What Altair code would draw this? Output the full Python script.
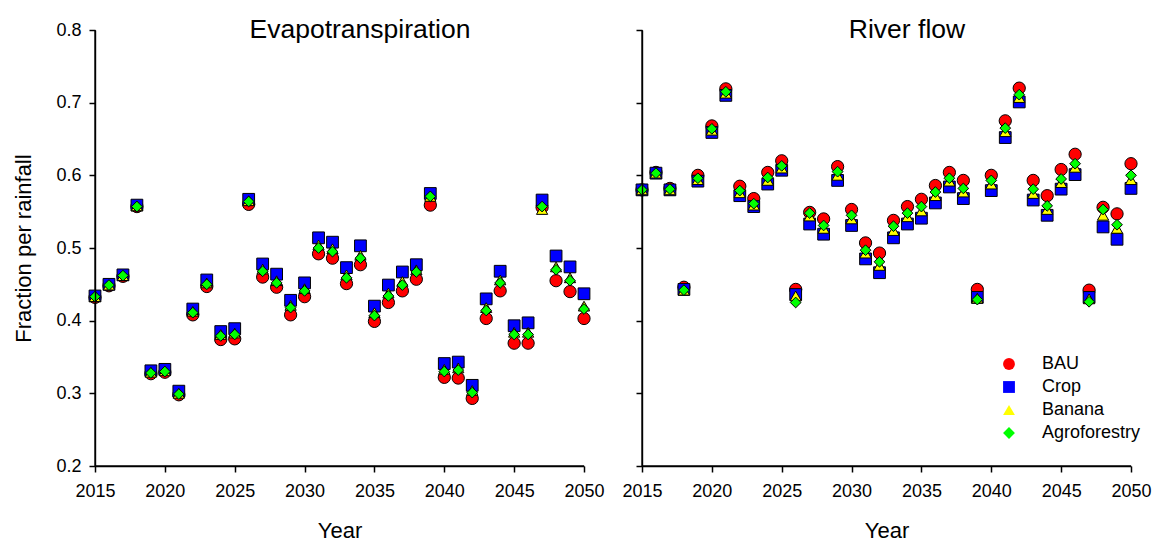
import altair as alt
import pandas as pd

years = list(range(2015, 2051))
scenarios = ["BAU", "Crop", "Banana", "Agroforestry"]
colors = ["#FF0000", "#0000FF", "#FFFF00", "#00FF00"]
shapes = ["circle", "square", "triangle-up", "diamond"]
sizes = [150, 115, 125, 150]

x_range = [2015, 2050]
y_range = [0.2, 0.8]
x_ticks = list(range(2015, 2051, 5))
y_ticks = [0.2, 0.3, 0.4, 0.5, 0.6, 0.7, 0.8]

# Evapotranspiration (fraction per rainfall)
et_bau = [0.432, 0.448, 0.461, 0.557, 0.327, 0.329, 0.298, 0.408, 0.447, 0.374,
          0.375, 0.560, 0.460, 0.446, 0.408, 0.433, 0.492, 0.486, 0.451, 0.477,
          0.399, 0.425, 0.441, 0.457, 0.559, 0.322, 0.321, 0.293, 0.403, 0.441,
          0.369, 0.369, 0.556, 0.455, 0.440, 0.403]
et_crop = [0.434, 0.450, 0.463, 0.559, 0.331, 0.333, 0.303, 0.416, 0.456, 0.385,
           0.389, 0.567, 0.478, 0.464, 0.428, 0.452, 0.514, 0.508, 0.473, 0.503,
           0.420, 0.449, 0.467, 0.477, 0.575, 0.341, 0.343, 0.311, 0.430, 0.468,
           0.393, 0.397, 0.566, 0.489, 0.474, 0.437]
et_banana = [0.433, 0.449, 0.462, 0.558, 0.329, 0.331, 0.300, 0.413, 0.452, 0.381,
             0.383, 0.565, 0.471, 0.455, 0.421, 0.444, 0.504, 0.499, 0.463, 0.490,
             0.411, 0.438, 0.454, 0.470, 0.571, 0.333, 0.335, 0.304, 0.418, 0.456,
             0.384, 0.384, 0.553, 0.474, 0.459, 0.420]
et_agro = [0.433, 0.449, 0.462, 0.557, 0.328, 0.330, 0.299, 0.411, 0.450, 0.379,
           0.381, 0.564, 0.468, 0.452, 0.418, 0.441, 0.500, 0.495, 0.459, 0.486,
           0.407, 0.434, 0.449, 0.467, 0.571, 0.330, 0.332, 0.301, 0.414, 0.452,
           0.381, 0.381, 0.557, 0.470, 0.455, 0.416]

# River flow (fraction per rainfall)
rf_bau = [0.580, 0.604, 0.582, 0.446, 0.600, 0.668, 0.719, 0.585, 0.568, 0.604,
          0.620, 0.443, 0.549, 0.540, 0.612, 0.553, 0.507, 0.493, 0.538, 0.557,
          0.567, 0.586, 0.604, 0.593, 0.443, 0.600, 0.675, 0.720, 0.593, 0.572,
          0.608, 0.629, 0.442, 0.556, 0.547, 0.616]
rf_crop = [0.580, 0.603, 0.580, 0.443, 0.592, 0.659, 0.710, 0.572, 0.557, 0.588,
           0.607, 0.436, 0.533, 0.519, 0.593, 0.531, 0.485, 0.466, 0.514, 0.533,
           0.541, 0.562, 0.584, 0.568, 0.432, 0.579, 0.652, 0.701, 0.566, 0.545,
           0.581, 0.601, 0.432, 0.529, 0.512, 0.582]
rf_banana = [0.580, 0.603, 0.580, 0.442, 0.594, 0.662, 0.713, 0.576, 0.559, 0.593,
             0.610, 0.434, 0.544, 0.527, 0.600, 0.540, 0.493, 0.476, 0.524, 0.543,
             0.551, 0.572, 0.592, 0.577, 0.431, 0.588, 0.660, 0.707, 0.575, 0.553,
             0.590, 0.611, 0.430, 0.545, 0.527, 0.594]
rf_agro = [0.580, 0.603, 0.581, 0.442, 0.596, 0.664, 0.715, 0.579, 0.561, 0.597,
           0.613, 0.425, 0.548, 0.531, 0.605, 0.545, 0.497, 0.481, 0.530, 0.548,
           0.557, 0.577, 0.596, 0.582, 0.429, 0.593, 0.665, 0.711, 0.581, 0.558,
           0.595, 0.616, 0.426, 0.553, 0.532, 0.600]

FONT = "Liberation Sans"


def long_table(series):
    rows = []
    for name, vals in zip(scenarios, series):
        for yr, v in zip(years, vals):
            rows.append({"Year": yr, "Scenario": name, "Value": v})
    return pd.DataFrame(rows)


et_df = long_table([et_bau, et_crop, et_banana, et_agro])
rf_df = long_table([rf_bau, rf_crop, rf_banana, rf_agro])

# axis lines (drawn through the scales)
frame_df = pd.DataFrame({
    "x": [x_range[0], x_range[0]], "x2": [x_range[0], x_range[1]],
    "y": [y_range[0], y_range[0]], "y2": [y_range[1], y_range[0]],
})

W, H = 489, 436


def panel(df, title, first, legend):
    xsc = alt.Scale(domain=x_range, nice=False, zero=False)
    ysc = alt.Scale(domain=y_range, nice=False, zero=False)
    x = alt.X("Year:Q", scale=xsc,
              axis=alt.Axis(values=x_ticks, format="d", domain=True, zindex=1,
                            domainColor="#000000", domainWidth=1.4,
                            labelFlush=False, title="Year", labelPadding=10, titlePadding=20))
    if first:
        yaxis = alt.Axis(values=y_ticks, format=".1f", domain=True, zindex=1,
                         domainColor="#000000", domainWidth=1.4,
                         labelFlush=False, title="Fraction per rainfall",
                         labelPadding=8, titlePadding=20)
    else:
        yaxis = alt.Axis(values=y_ticks, labels=False, domain=True, zindex=1,
                         domainColor="#000000", domainWidth=1.4, title=None)
    y = alt.Y("Value:Q", scale=ysc, axis=yaxis)
    if legend:
        leg = alt.Legend(orient="none", legendX=358, legendY=325, title=None,
                         labelFont=FONT, labelFontSize=18, labelColor="black",
                         symbolSize=140, symbolStrokeColor="black", symbolStrokeWidth=1,
                         symbolOpacity=1, rowPadding=5, labelOffset=24, padding=0)
    else:
        leg = None
    frame = alt.Chart(frame_df).mark_rule(color="#111111", strokeWidth=1.4, opacity=1).encode(
        x=alt.X("x:Q", scale=xsc), x2="x2:Q",
        y=alt.Y("y:Q", scale=ysc), y2="y2:Q",
    )
    pts = alt.Chart(df).mark_point(filled=True, opacity=1, stroke="black", strokeWidth=1).encode(
        x=x, y=y,
        color=alt.Color("Scenario:N", scale=alt.Scale(domain=scenarios, range=colors), legend=leg),
        shape=alt.Shape("Scenario:N", scale=alt.Scale(domain=scenarios, range=shapes), legend=leg),
        size=alt.Size("Scenario:N", scale=alt.Scale(domain=scenarios, range=sizes), legend=None),
    )
    ttl = alt.Chart(pd.DataFrame({"t": [title]})).mark_text(
        font=FONT, fontSize=26.5, color="black", baseline="alphabetic", align="center"
    ).encode(text="t:N", x=alt.value(265), y=alt.value(8))
    return alt.layer(frame, pts, ttl).properties(width=W, height=H)


left = panel(et_df, "Evapotranspiration", True, False)
right = panel(rf_df, "River flow", False, True)

chart = alt.hconcat(left, right, spacing=58, bounds="flush").resolve_legend(
    color="independent", shape="independent"
).resolve_scale(color="independent", shape="independent").properties(
    padding={"left": 12, "top": 17, "right": 0, "bottom": 0}
).configure_axis(
    labelFont=FONT, labelFontSize=18, labelColor="black",
    titleFont=FONT, titleFontSize=22, titleFontWeight="normal", titleColor="black",
    domain=True, domainColor="#000000", tickColor="#000000", domainWidth=1.4, tickWidth=1.5,
    tickSize=6, grid=False
).configure_view(stroke=None, fill=None)

chart.save("out.html", embed_options={"renderer": "svg", "actions": False})
